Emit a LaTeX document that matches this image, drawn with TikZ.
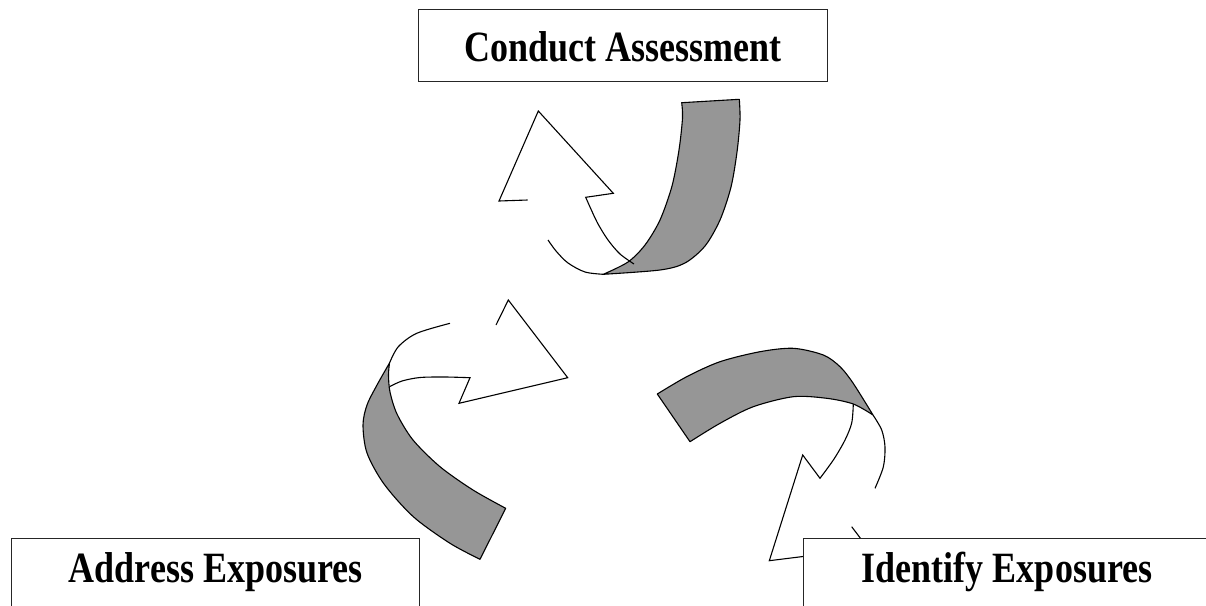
\documentclass[tikz,border=0pt]{standalone}
\usepackage{fontspec}
\setmainfont{Liberation Serif}
\definecolor{ribbongray}{RGB}{150,150,150}
\begin{document}
\begin{tikzpicture}[x=1pt,y=-1pt,
  lbl/.style={draw=black!85, line width=1.3pt, fill=white, inner sep=0pt, anchor=north west,
    font=\bfseries\fontsize{36}{40}\selectfont},
  ribbon/.style={draw=black, line width=1.1pt, fill=ribbongray, line join=round},
  edge/.style={draw=black, line width=1.1pt, line join=miter}]
\useasboundingbox (0,0) rectangle (1206,605);

% ---- top arrow ----
\path[ribbon] (681.7,102.7) -- (739.3,99.3)
  -- plot[smooth] coordinates {(739.3,99.3) (740,120) (737,152) (731,187) (720,220) (705,246) (685,263) (660,270) (603.3,274.3)}
  -- plot[smooth] coordinates {(603.3,274.3) (628,262) (645,245) (660,220) (672,186) (679,150) (682.5,118) (681.7,102.7)}
  -- cycle;
\draw[edge] plot[smooth] coordinates {(603.3,274.3) (585,272) (568,263) (556,251) (548,240)};
\draw[edge] (527.7,200) -- (499,201) -- (538.3,111) -- (613.3,193.3) -- (585.7,197.3)
  -- plot[smooth] coordinates {(585.7,197.3) (597,222) (608,240) (620,254) (634,264)};

% ---- left arrow ----
\path[ribbon] (505.7,508.3) -- (480,559.3)
  -- plot[smooth] coordinates {(480,559.3) (450,543.3) (413.3,516.7) (384,484) (367,453) (363,425) (367,405) (377,385) (389.5,363)}
  -- plot[smooth] coordinates {(389.5,363) (388.5,375) (390,392) (397,414) (413,440) (440,466.7) (473,490) (505.7,508.3)}
  -- cycle;
\draw[edge] plot[smooth] coordinates {(389.5,363) (398.3,346.7) (416.7,333.3) (450,323.3)};
\draw[edge] (496,325) -- (508.3,300) -- (567.7,377.7) -- (459,403.3) -- (470,377.7)
  -- plot[smooth] coordinates {(470,377.7) (445,377) (420,377.5) (402,381) (389.5,386.7)};

% ---- right arrow ----
\path[ribbon] (657.3,394) -- (690,441.7)
  -- plot[smooth] coordinates {(690,441.7) (720,423.3) (753.3,406.7) (793.3,396.7) (826.7,398.3) (853.3,404) (873,415)}
  -- plot[smooth] coordinates {(873,415) (853,383) (840,366.7) (823.3,355) (793.3,348.3) (760,351.7) (720,361.7) (686.7,376.7) (657.3,394)}
  -- cycle;
\draw[edge] plot[smooth] coordinates {(873,415) (881.7,430) (885,447) (883.3,467) (875,488.3)};
\draw[edge] (851.7,526.7) -- (868,548.4) -- (769.3,560.7) -- (802.7,455) -- (820,478.3)
  -- plot[smooth] coordinates {(820,478.3) (834,459) (845,440) (851.7,423) (853.3,404)};

% ---- boxes ----
\node[lbl, minimum width=409pt, minimum height=72pt, text height=52pt, text depth=20pt]
  (conduct) at (418,9) {\scalebox{1}[1.2]{Conduct Assessment}};
\node[lbl, minimum width=408pt, minimum height=72pt, text height=44pt, text depth=28pt]
  (address) at (11,538) {\scalebox{1}[1.2]{Address Exposures}};
\node[lbl, minimum width=407pt, minimum height=72pt, text height=44pt, text depth=28pt]
  (identify) at (803,537.5) {\scalebox{1}[1.2]{Identify Exposures}};
\end{tikzpicture}
\end{document}
